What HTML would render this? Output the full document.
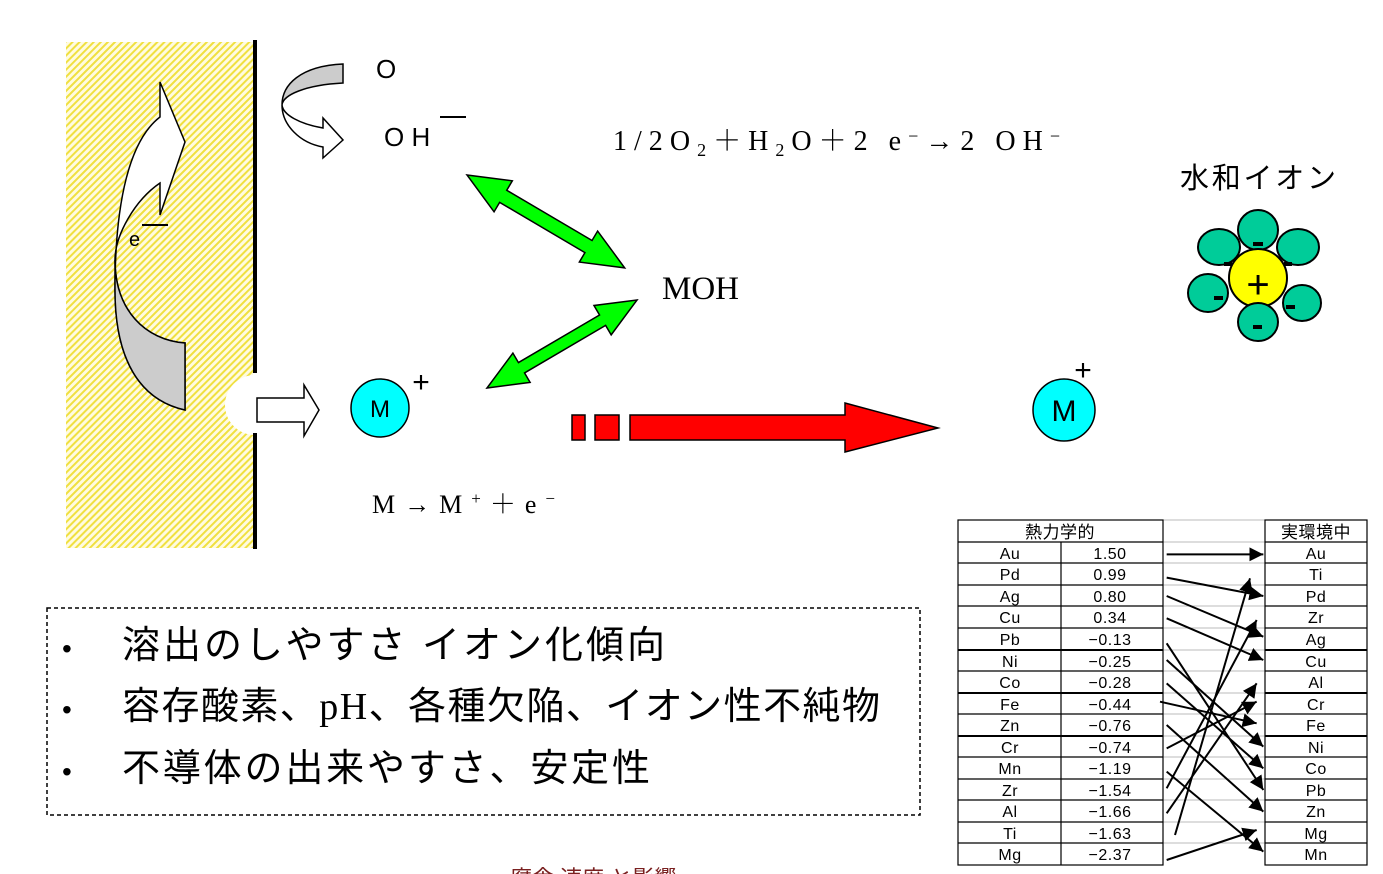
<!DOCTYPE html>
<html><head><meta charset="utf-8"><style>
body{margin:0;background:#fff;}
svg{display:block}
.s{font-family:"Liberation Sans","Noto Sans CJK JP",sans-serif}
.r{font-family:"Liberation Serif","Noto Serif CJK SC",serif}
</style></head><body>
<svg width="1383" height="874" viewBox="0 0 1383 874" xmlns="http://www.w3.org/2000/svg">
<defs>
<pattern id="h" width="5" height="5" patternUnits="userSpaceOnUse" patternTransform="rotate(45)">
<rect width="5" height="5" fill="#fffbe0"/><rect width="2" height="5" fill="#f0e040"/>
</pattern>
<marker id="a" markerWidth="8" markerHeight="8" refX="7" refY="4" orient="auto" markerUnits="strokeWidth">
<path d="M0,0.5 L7,4 L0,7.5 Z" fill="#000"/></marker>
</defs>
<rect x="66" y="42" width="187" height="506" fill="url(#h)"/>
<circle cx="255" cy="405" r="30" fill="#fff"/>
<rect x="253" y="40" width="4" height="333" fill="#000"/>
<rect x="253" y="433" width="4" height="116" fill="#000"/>
<path d="M185,410 C140,400 115,360 115,290 C115,200 130,140 160,117 L160,82 L185,142 L160,215 L160,183 C135,200 115,235 115,260 C115,310 145,340 185,343 Z" fill="#fff" stroke="#000" stroke-width="1.5"/>
<path d="M185,410 C140,400 115,360 115,290 L115,260 C115,310 145,340 185,343 Z" fill="#ccc" stroke="#000" stroke-width="1.5"/>
<text x="129" y="246" class="s" font-size="20">e</text>
<rect x="142" y="224" width="26" height="2" fill="#000"/>
<path d="M343,64 L343,83 C305,85 283,95 282,105 C282,85 300,66 343,64 Z" fill="#ccc" stroke="#000" stroke-width="1.5"/>
<path d="M282,105 C282,125 300,143 323,147 L323,158 L343,140 L323,118 L323,128 C300,124 283,115 282,105 Z" fill="#fff" stroke="#000" stroke-width="1.5"/>
<text x="376" y="78" class="s" font-size="26">O</text>
<text x="384" y="146" class="s" font-size="26">O H</text>
<rect x="440" y="116" width="26" height="2" fill="#000"/>
<text x="613" y="150" class="r" font-size="28" textLength="447" lengthAdjust="spacing">1/2O<tspan font-size="18" dy="6">2</tspan><tspan dy="-6">＋H</tspan><tspan font-size="18" dy="6">2</tspan><tspan dy="-6">O＋2 e</tspan><tspan font-size="18" dy="-8">−</tspan><tspan dy="8">→2 OH</tspan><tspan font-size="18" dy="-8">−</tspan></text>
<g transform="translate(467,175) rotate(30.5)"><polygon points="0,0 42,-18 42,-7 141,-7 141,-18 183,0 141,18 141,7 42,7 42,18" fill="#00ff00" stroke="#000" stroke-width="1.5"/></g>
<g transform="translate(487,388) rotate(-30.4)"><polygon points="0,0 40,-17 40,-6 134,-6 134,-17 174,0 134,17 134,6 40,6 40,17" fill="#00ff00" stroke="#000" stroke-width="1.5"/></g>
<text x="662" y="299" class="r" font-size="33">MOH</text>
<path d="M257,398 L304,398 L304,385 L319,410 L304,436 L304,422 L257,422 Z" fill="#fff" stroke="#000" stroke-width="1.5"/>
<circle cx="380" cy="408" r="29" fill="#00ffff" stroke="#000" stroke-width="1.5"/>
<text x="380" y="417" class="s" font-size="24" text-anchor="middle">M</text>
<text x="421" y="392" class="s" font-size="30" text-anchor="middle">+</text>
<rect x="572" y="415" width="13" height="25" fill="#f00" stroke="#000" stroke-width="1.5"/>
<rect x="595" y="415" width="24" height="25" fill="#f00" stroke="#000" stroke-width="1.5"/>
<path d="M630,415 L845,415 L845,403 L938,428 L845,452 L845,440 L630,440 Z" fill="#f00" stroke="#000" stroke-width="1.5"/>
<circle cx="1064" cy="410" r="31" fill="#00ffff" stroke="#000" stroke-width="1.5"/>
<text x="1064" y="421" class="s" font-size="30" text-anchor="middle">M</text>
<text x="1083" y="380" class="s" font-size="30" text-anchor="middle">+</text>
<text x="372" y="513" class="r" font-size="26" textLength="183" lengthAdjust="spacing">M→M<tspan font-size="17" dy="-9">+</tspan><tspan dy="9">＋e</tspan><tspan font-size="17" dy="-9">−</tspan></text>
<text x="1180" y="188" class="s" font-size="29" textLength="156" lengthAdjust="spacing">水和イオン</text>
<g fill="#00cc99" stroke="#000" stroke-width="2">
<ellipse cx="1258" cy="230" rx="20" ry="20"/>
<ellipse cx="1219" cy="247" rx="21" ry="18"/>
<ellipse cx="1298" cy="247" rx="21" ry="18"/>
<ellipse cx="1208" cy="293" rx="20" ry="19"/>
</g>
<circle cx="1258" cy="278" r="29" fill="#ffff00" stroke="#000" stroke-width="2"/>
<g fill="#00cc99" stroke="#000" stroke-width="2">
<ellipse cx="1302" cy="303" rx="19" ry="18"/>
<ellipse cx="1258" cy="322" rx="20" ry="19"/>
</g>
<g fill="#000"><rect x="1253" y="242" width="10" height="4"/><rect x="1224" y="262" width="8" height="4"/><rect x="1284" y="262" width="8" height="4"/><rect x="1214" y="296" width="9" height="4"/><rect x="1286" y="305" width="9" height="4"/><rect x="1253" y="325" width="9" height="4"/></g>
<text x="1258" y="298" class="s" font-size="40" text-anchor="middle">+</text>
<rect x="47" y="608" width="873" height="207" fill="none" stroke="#000" stroke-width="1.5" stroke-dasharray="4,3"/>
<g class="s" font-size="38">
<text x="62" y="658" font-size="28">•</text><text x="122" y="658" textLength="543" lengthAdjust="spacing">溶出のしやすさ  イオン化傾向</text>
<text x="62" y="719" font-size="28">•</text><text x="122" y="719" textLength="758" lengthAdjust="spacing">容存酸素、<tspan class="r">pH</tspan>、各種欠陥、イオン性不純物</text>
<text x="62" y="781" font-size="28">•</text><text x="122" y="781" textLength="528" lengthAdjust="spacing">不導体の出来やすさ、安定性</text>
</g>
<g stroke="#bbb" stroke-width="1">
<line x1="1163" y1="542" x2="1265" y2="542"/><line x1="1163" y1="563" x2="1265" y2="563"/><line x1="1163" y1="585" x2="1265" y2="585"/><line x1="1163" y1="606" x2="1265" y2="606"/><line x1="1163" y1="628" x2="1265" y2="628"/><line x1="1163" y1="650" x2="1265" y2="650"/><line x1="1163" y1="671" x2="1265" y2="671"/><line x1="1163" y1="693" x2="1265" y2="693"/><line x1="1163" y1="714" x2="1265" y2="714"/><line x1="1163" y1="736" x2="1265" y2="736"/><line x1="1163" y1="757" x2="1265" y2="757"/><line x1="1163" y1="779" x2="1265" y2="779"/><line x1="1163" y1="800" x2="1265" y2="800"/><line x1="1163" y1="822" x2="1265" y2="822"/><line x1="1163" y1="843" x2="1265" y2="843"/><line x1="1163" y1="520" x2="1265" y2="520"/>
</g>
<g stroke="#000" stroke-width="1.2" fill="none">
<rect x="958" y="520" width="205" height="345"/>
<rect x="1265" y="520" width="102" height="345"/>
<line x1="1061" y1="542" x2="1061" y2="865"/>
<line x1="958" y1="542" x2="1163" y2="542"/><line x1="958" y1="563" x2="1163" y2="563"/><line x1="958" y1="585" x2="1163" y2="585"/><line x1="958" y1="606" x2="1163" y2="606"/><line x1="958" y1="628" x2="1163" y2="628"/><line x1="958" y1="650" x2="1163" y2="650" stroke-width="2"/><line x1="958" y1="671" x2="1163" y2="671"/><line x1="958" y1="693" x2="1163" y2="693" stroke-width="2"/><line x1="958" y1="714" x2="1163" y2="714"/><line x1="958" y1="736" x2="1163" y2="736" stroke-width="2"/><line x1="958" y1="757" x2="1163" y2="757"/><line x1="958" y1="779" x2="1163" y2="779"/><line x1="958" y1="800" x2="1163" y2="800"/><line x1="958" y1="822" x2="1163" y2="822"/><line x1="958" y1="843" x2="1163" y2="843"/>
<line x1="1265" y1="542" x2="1367" y2="542"/><line x1="1265" y1="563" x2="1367" y2="563"/><line x1="1265" y1="585" x2="1367" y2="585"/><line x1="1265" y1="606" x2="1367" y2="606"/><line x1="1265" y1="628" x2="1367" y2="628"/><line x1="1265" y1="650" x2="1367" y2="650" stroke-width="2"/><line x1="1265" y1="671" x2="1367" y2="671"/><line x1="1265" y1="693" x2="1367" y2="693" stroke-width="2"/><line x1="1265" y1="714" x2="1367" y2="714"/><line x1="1265" y1="736" x2="1367" y2="736" stroke-width="2"/><line x1="1265" y1="757" x2="1367" y2="757"/><line x1="1265" y1="779" x2="1367" y2="779"/><line x1="1265" y1="800" x2="1367" y2="800"/><line x1="1265" y1="822" x2="1367" y2="822"/><line x1="1265" y1="843" x2="1367" y2="843"/>
</g>
<g class="s" font-size="16" text-anchor="middle" fill="#000" letter-spacing="0.5">
<text x="1060" y="538" font-size="17">熱力学的</text><text x="1316" y="538" font-size="17">実環境中</text>
<text x="1010" y="559">Au</text><text x="1110" y="559">1.50</text>
<text x="1010" y="580">Pd</text><text x="1110" y="580">0.99</text>
<text x="1010" y="602">Ag</text><text x="1110" y="602">0.80</text>
<text x="1010" y="623">Cu</text><text x="1110" y="623">0.34</text>
<text x="1010" y="645">Pb</text><text x="1110" y="645">−0.13</text>
<text x="1010" y="667">Ni</text><text x="1110" y="667">−0.25</text>
<text x="1010" y="688">Co</text><text x="1110" y="688">−0.28</text>
<text x="1010" y="710">Fe</text><text x="1110" y="710">−0.44</text>
<text x="1010" y="731">Zn</text><text x="1110" y="731">−0.76</text>
<text x="1010" y="753">Cr</text><text x="1110" y="753">−0.74</text>
<text x="1010" y="774">Mn</text><text x="1110" y="774">−1.19</text>
<text x="1010" y="796">Zr</text><text x="1110" y="796">−1.54</text>
<text x="1010" y="817">Al</text><text x="1110" y="817">−1.66</text>
<text x="1010" y="839">Ti</text><text x="1110" y="839">−1.63</text>
<text x="1010" y="860">Mg</text><text x="1110" y="860">−2.37</text>
<text x="1316" y="559">Au</text><text x="1316" y="580">Ti</text><text x="1316" y="602">Pd</text><text x="1316" y="623">Zr</text><text x="1316" y="645">Ag</text><text x="1316" y="667">Cu</text><text x="1316" y="688">Al</text><text x="1316" y="710">Cr</text><text x="1316" y="731">Fe</text><text x="1316" y="753">Ni</text><text x="1316" y="774">Co</text><text x="1316" y="796">Pb</text><text x="1316" y="817">Zn</text><text x="1316" y="839">Mg</text><text x="1316" y="860">Mn</text>
</g>
<g transform="translate(950 510) scale(0.33333)" stroke="#000" stroke-width="6" fill="none" marker-end="url(#a)">
<line x1="650" y1="133" x2="940" y2="133"/>
<line x1="650" y1="203" x2="940" y2="258"/>
<line x1="650" y1="258" x2="940" y2="380"/>
<line x1="650" y1="325" x2="940" y2="450"/>
<line x1="650" y1="400" x2="940" y2="840"/>
<line x1="650" y1="450" x2="940" y2="710"/>
<line x1="650" y1="520" x2="940" y2="775"/>
<line x1="630" y1="575" x2="920" y2="640"/>
<line x1="650" y1="645" x2="940" y2="905"/>
<line x1="650" y1="785" x2="940" y2="1025"/>
<line x1="650" y1="715" x2="920" y2="575"/>
<line x1="650" y1="835" x2="920" y2="330"/>
<line x1="650" y1="910" x2="920" y2="520"/>
<line x1="675" y1="975" x2="900" y2="205"/>
<line x1="650" y1="1050" x2="920" y2="960"/>
</g>
<text x="510" y="886" class="s" font-size="22" fill="#7a2020">腐食  速度  と影響</text>
</svg>
</body></html>
